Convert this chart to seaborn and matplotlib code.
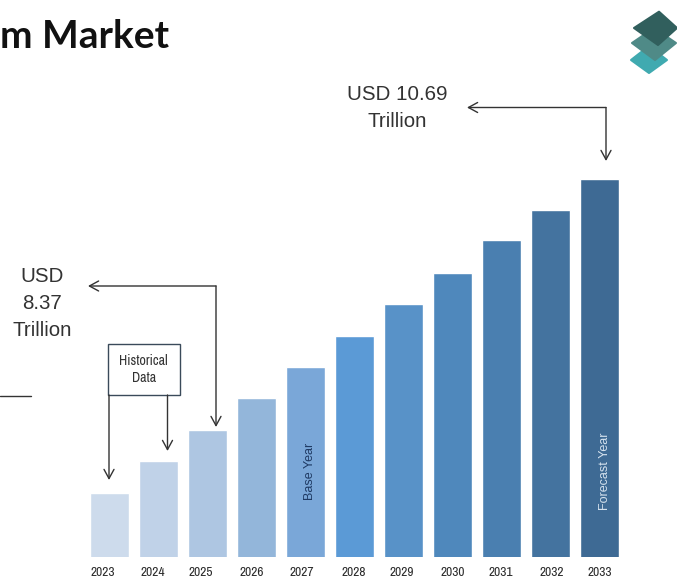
import matplotlib
matplotlib.use("Agg")
import matplotlib.pyplot as plt
from matplotlib.patches import Polygon, Rectangle
from matplotlib.transforms import ScaledTranslation
import pandas as pd
import seaborn as sns

# Market size by year, USD trillion
years = ["2023", "2024", "2025", "2026", "2027", "2028", "2029", "2030", "2031", "2032", "2033"]
market_size = [7.79, 8.08, 8.37, 8.66, 8.95, 9.24, 9.53, 9.82, 10.12, 10.40, 10.69]
bar_colors = ["#cddbec", "#c0d2e8", "#aec6e2", "#93b6da", "#7aa7d8", "#5b9ad6",
              "#5892c8", "#4f88bc", "#4a7fb0", "#44739f", "#3e6a94"]
label_shift_px = [-7, -5.5, -6.5, -4.5, -3, -0.5, -1.5, 0.5, -0.5, 1.5, 0]

W, H = 677, 577
NARROW = ["Liberation Sans Narrow", "Archivo Narrow", "Liberation Sans"]
sns.set_theme(style="white")
plt.rcParams["font.family"] = ["Liberation Sans", "DejaVu Sans"]

fig = plt.figure(figsize=(W / 100, H / 100), dpi=100, facecolor="white")

# Bar axes: the value axis starts well above zero and is hidden
baseline_px = 556.7
ax = fig.add_axes([84.8 / W, (H - baseline_px) / H, 539 / W, baseline_px / H])
df = pd.DataFrame({"year": years, "size": market_size})
sns.barplot(data=df, x="year", y="size", hue="year", palette=bar_colors, legend=False,
            width=0.8, saturation=1, ax=ax)
ax.set_xlim(-0.5, 10.5)
px_per_unit = 108.2
ax.set_ylim(7.197, 7.197 + baseline_px / px_per_unit)
ax.set_xlabel("")
ax.set_ylabel("")
ax.set_yticks([])
ax.patch.set_alpha(0)
sns.despine(ax=ax, left=True, bottom=True, top=True, right=True)
ax.tick_params(axis="x", length=0, pad=7.2, labelsize=9.7, labelcolor="#2b2b2b")
for label, shift in zip(ax.get_xticklabels(), label_shift_px):
    label.set_family(NARROW)
    label.set_transform(label.get_transform() + ScaledTranslation(shift / 100, 0, fig.dpi_scale_trans))

# Annotation layer in pixel coordinates
ov = fig.add_axes([0, 0, 1, 1], zorder=5)
ov.set_xlim(0, W)
ov.set_ylim(H, 0)
ov.axis("off")
ov.patch.set_alpha(0)

ink = "#333333"


def arrow(start, tip):
    ov.annotate("", xy=tip, xytext=start,
                arrowprops=dict(arrowstyle="->,head_length=0.55,head_width=0.3", color=ink,
                                lw=1.0, shrinkA=0, shrinkB=0))


# Historical data box and its arrows
ov.add_patch(Rectangle((108, 344), 71.5, 51, facecolor="white", edgecolor="#3a4a5a", lw=1.0))
ov.text(143.7, 369.5, "Historical\nData", ha="center", va="center", fontsize=10,
        family=NARROW, color=ink, linespacing=1.3)
arrow((109, 395), (109, 480))
arrow((167.5, 395), (167.5, 451))
arrow((216, 286), (216, 427))
arrow((216, 286), (88, 286))

# Forecast arrows
arrow((606, 107.5), (467, 107.5))
arrow((606, 107.5), (606, 161))

# Value callouts
ov.text(397, 108, "USD 10.69\nTrillion", ha="center", va="center", fontsize=14.8,
        color=ink, linespacing=1.52)
ov.text(42, 303.5, "USD\n8.37\nTrillion", ha="center", va="center", fontsize=14.8,
        color=ink, linespacing=1.52)

# Labels inside the bars
ov.text(310, 471, "Base Year", rotation=90, ha="center", va="center", fontsize=9, color="#1f3a63")
ov.text(605, 471, "Forecast Year", rotation=90, ha="center", va="center", fontsize=9, color="#d5e2ee")

# Rule at the left edge
ov.plot([0, 31], [395.5, 395.5], color="#333333", lw=1.0)

# Heading, running off the left edge
ov.text(0, 36, "m Market", ha="left", va="center", fontsize=28, fontweight="bold",
        family=["Lato", "DejaVu Sans"], color="#111111")

# Stacked-layers emblem
layers = [
    ("#40aab0", [(649, 46), (667, 60), (649, 73), (631, 60)]),
    ("#4f8a87", [(654, 28), (676, 43), (655, 60), (632, 43)]),
    ("#315f5d", [(659, 11.7), (677, 28), (658, 45), (634, 28)]),
]
for color, corners in layers:
    ov.add_patch(Polygon(corners, closed=True, facecolor=color, edgecolor=color, lw=1.5, joinstyle="round"))

fig.savefig("out.png", dpi=100, facecolor="white")
